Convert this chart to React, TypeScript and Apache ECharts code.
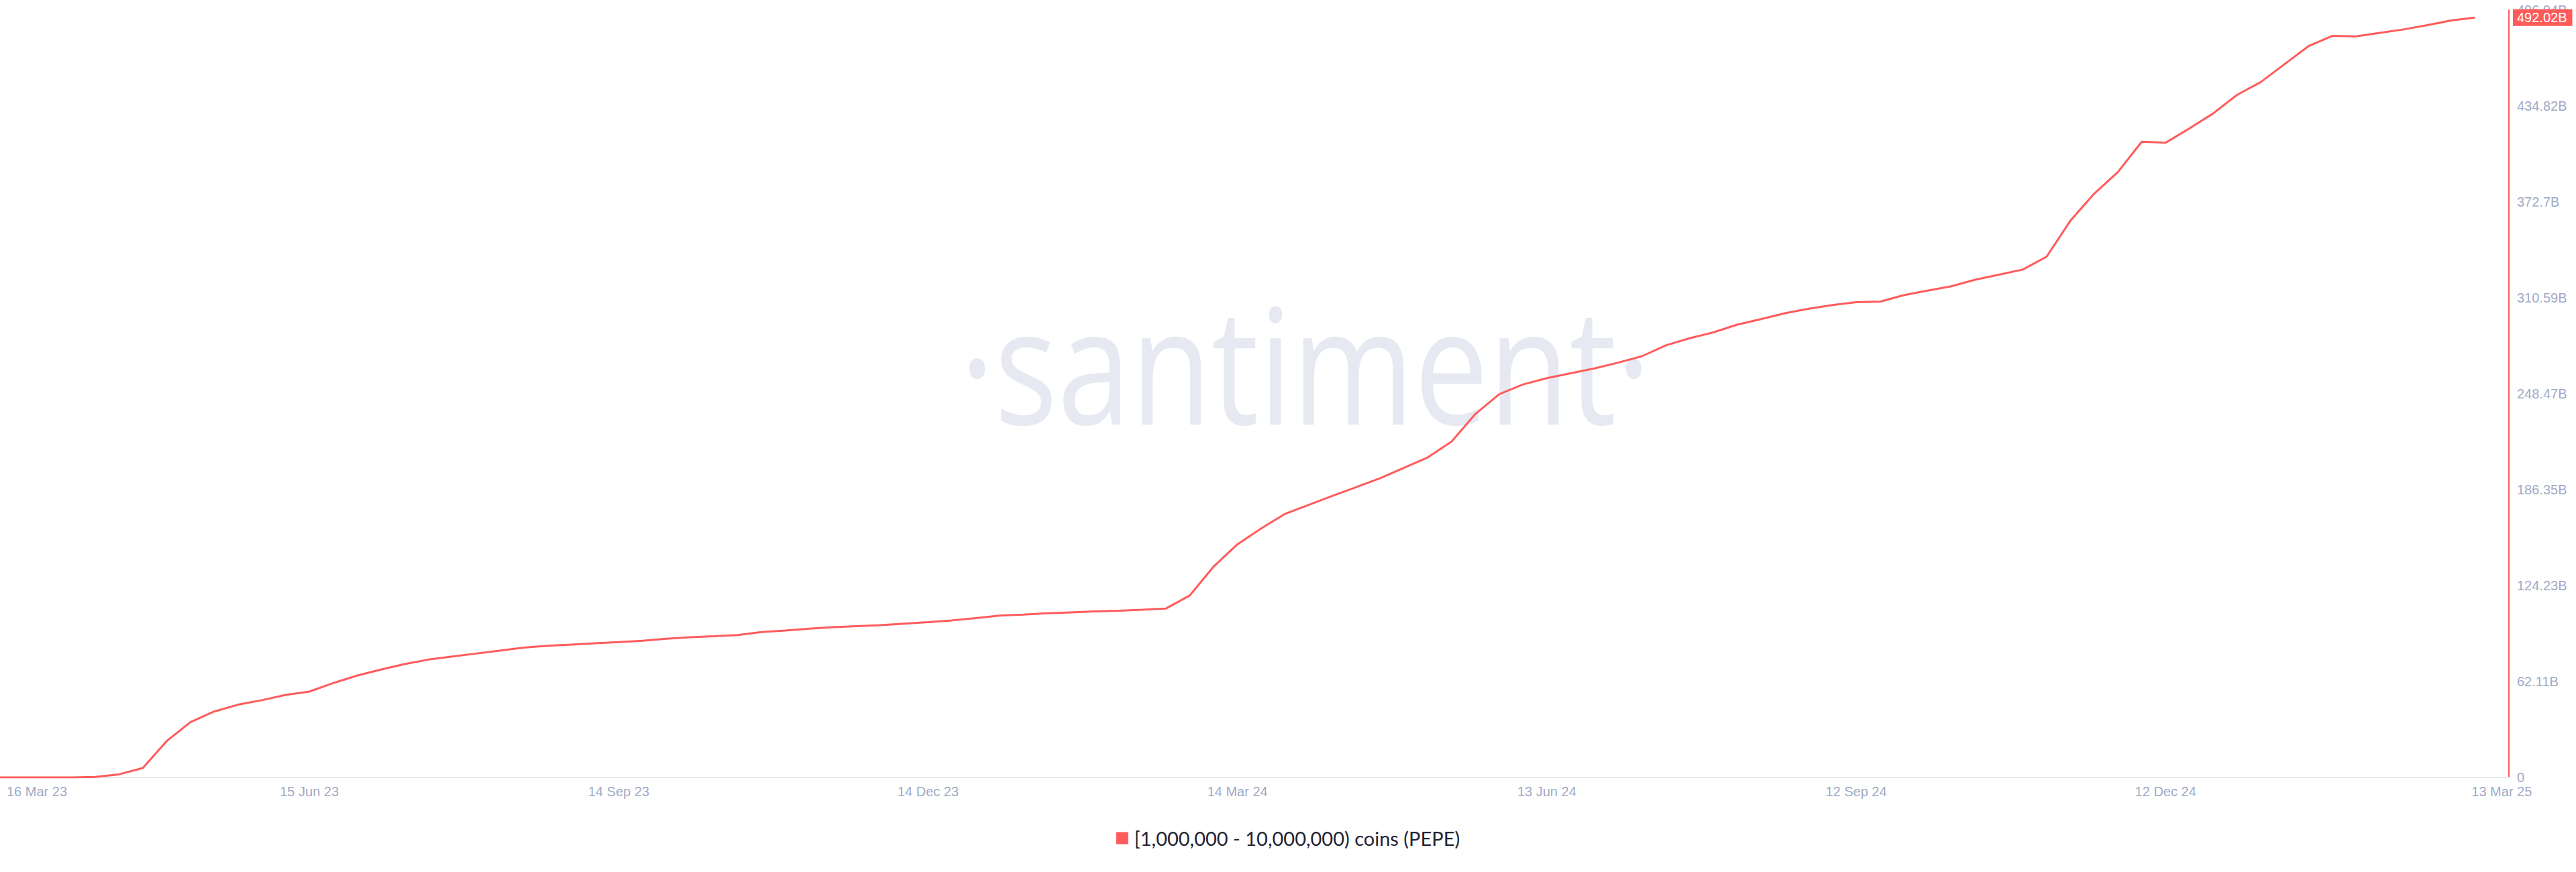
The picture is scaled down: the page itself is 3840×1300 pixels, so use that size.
import React, { useEffect, useRef } from 'react';
import * as echarts from 'echarts';

// Weekly snapshots starting 16 Mar 23; x positions are days since the first snapshot.
const weekDays = 7;
const tickStepDays = 91;
const axisEndDays = 738;
const xTickLabels = [
  '16 Mar 23', '15 Jun 23', '14 Sep 23', '14 Dec 23', '14 Mar 24',
  '13 Jun 24', '12 Sep 24', '12 Dec 24', '13 Mar 25',
];

// Total PEPE held by the cohort, in billions, one value per week.
const holdingsB = [
  0, 0, 0, 0, 0.3, 2.0, 6.1, 23.5, 35.8, 42.7,
  47.1, 50.0, 53.4, 55.6, 61.1, 65.9, 69.8, 73.4, 76.3, 78.3,
  80.2, 82.1, 84.1, 85.3, 86.0, 86.9, 87.6, 88.5, 89.8, 90.8,
  91.4, 92.2, 94.2, 95.1, 96.3, 97.3, 98.0, 98.6, 99.6, 100.6,
  101.7, 103.2, 104.8, 105.4, 106.3, 106.9, 107.5, 108.0, 108.6, 109.4,
  117.9, 136.6, 151.0, 161.3, 170.7, 176.5, 182.4, 188.0, 193.8, 200.5,
  207.3, 217.5, 235.4, 248.2, 254.5, 258.6, 261.7, 264.9, 268.6, 272.8,
  279.8, 284.4, 288.2, 293.2, 296.8, 300.6, 303.5, 305.9, 307.8, 308.1,
  312.3, 315.3, 318.1, 322.3, 325.6, 328.9, 337.2, 360.5, 378.0, 392.1,
  411.7, 411.0, 420.3, 430.0, 442.0, 450.3, 461.9, 473.5, 480.2, 479.9,
  482.2, 484.4, 487.2, 490.2, 492.02,
];

const seriesName = '[1,000,000 - 10,000,000) coins (PEPE)';
const yTickStepB = 62.118;
const yTickCount = 8;

const RED = '#ff5b5b';
const AXIS_TEXT = '#a0aac5';
const LABEL_FONT = '"Liberation Sans", Arial, sans-serif';

const formatBillions = (v: number) =>
  v === 0 ? '0' : `${Math.floor(v / 1e7 + 1e-6) / 100}B`;

export default function App() {
  const ref = useRef<HTMLDivElement>(null);

  useEffect(() => {
    document.body.style.margin = '0';
    if (!ref.current) return;
    const chart = echarts.init(ref.current, undefined, { renderer: 'svg' });

    const points = holdingsB.map((b, i) => [i * weekDays, b * 1e9]);
    const last = holdingsB[holdingsB.length - 1] * 1e9;

    chart.setOption({
      animation: false,
      backgroundColor: '#ffffff',
      grid: { left: 0, right: 100, top: 15, bottom: 141, containLabel: false },
      graphic: [
        {
          type: 'text',
          x: 1946,
          y: 540,
          scaleX: 0.82,
          z: -10,
          silent: true,
          style: {
            text: '·santiment·',
            fontSize: 240,
            fontFamily: '"Open Sans", sans-serif',
            fill: '#e6e9f2',
            align: 'center',
            verticalAlign: 'middle',
          },
        },
      ],
      legend: {
        left: 'center',
        top: 1230,
        icon: 'rect',
        itemWidth: 18,
        itemHeight: 18,
        textStyle: {
          fontSize: 29,
          color: '#1f2435',
          fontFamily: 'Lato, sans-serif',
          padding: [0, 0, 0, 4],
        },
        data: [seriesName],
      },
      xAxis: {
        type: 'value',
        min: 0,
        max: axisEndDays,
        interval: tickStepDays,
        axisLine: { show: true, onZero: false, lineStyle: { color: '#e5e8f2', width: 2 } },
        axisTick: { show: false },
        splitLine: { show: false },
        axisLabel: {
          margin: 11,
          fontSize: 20,
          color: AXIS_TEXT,
          fontFamily: LABEL_FONT,
          formatter: (v: number) => {
            const k = v / tickStepDays;
            const idx = Math.round(k);
            if (Math.abs(k - idx) > 1e-6 || idx >= xTickLabels.length) return '';
            const label = xTickLabels[idx];
            if (idx === 0) return `{first|${label}}`;
            if (idx === xTickLabels.length - 1) return `{last|${label}}`;
            return label;
          },
          rich: {
            first: { padding: [0, 0, 0, 110], fontSize: 20, color: AXIS_TEXT, fontFamily: LABEL_FONT },
            last: { padding: [0, 0, 0, 80], fontSize: 20, color: AXIS_TEXT, fontFamily: LABEL_FONT },
          },
        },
      },
      yAxis: {
        type: 'value',
        position: 'right',
        min: 0,
        max: yTickStepB * yTickCount * 1e9,
        interval: yTickStepB * 1e9,
        axisLine: { show: true, onZero: false, lineStyle: { color: RED, width: 2 } },
        axisTick: { show: false },
        splitLine: { show: false },
        axisLabel: {
          margin: 12,
          fontSize: 20,
          color: AXIS_TEXT,
          fontFamily: LABEL_FONT,
          formatter: formatBillions,
        },
      },
      series: [
        {
          name: seriesName,
          type: 'line',
          data: points,
          showSymbol: false,
          lineStyle: { color: RED, width: 3 },
          itemStyle: { color: RED },
          markLine: {
            silent: true,
            symbol: ['none', 'none'],
            lineStyle: { color: 'rgba(0,0,0,0)', width: 1, type: 'solid' },
            label: {
              show: true,
              position: 'end',
              distance: 6,
              formatter: () => formatBillions(last),
              color: '#ffffff',
              backgroundColor: RED,
              padding: [3, 8, 2, 6],
              fontSize: 20,
              fontFamily: LABEL_FONT,
            },
            data: [{ yAxis: last }],
          },
        },
      ],
    });

    return () => chart.dispose();
  }, []);

  return <div ref={ref} style={{ width: 3840, height: 1300 }} />;
}
